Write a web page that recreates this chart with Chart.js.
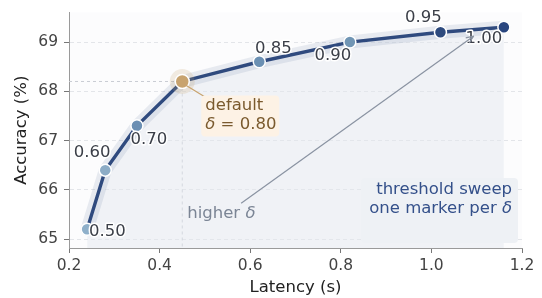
<!DOCTYPE html>
<html>
<head>
<meta charset="utf-8">
<script src="https://cdn.jsdelivr.net/npm/chart.js@4.4.1/dist/chart.umd.min.js"></script>
<style>
  html, body { margin: 0; padding: 0; background: #fff; }
  #c { display: block; }
</style>
</head>
<body>
<canvas id="c" width="542" height="298"></canvas>
<script>
/* Varredura de limiar: latência x acurácia, um marcador por delta */

const deltas   = [0.50, 0.60, 0.70, 0.80, 0.85, 0.90, 0.95, 1.00];
const latency  = [0.24, 0.28, 0.35, 0.45, 0.62, 0.82, 1.02, 1.16];
const accuracy = [65.2, 66.4, 67.3, 68.2, 68.6, 69.0, 69.2, 69.3];
const xTicks = [0.2, 0.4, 0.6, 0.8, 1.0, 1.2];
const yTicks = [65, 66, 67, 68, 69];
const defaultDelta = 0.80;

const FONTE = '"DejaVu Sans", sans-serif';
const TAM = 16.5;
const AZUL = '#2f4a7e';
const CORES_PTS = ['#8fb0ca', '#8cacc6', '#6b8fb3', '#c8a36e', '#6b90b3', '#7095b4', '#2d4a7e', '#2a467f'];
// deslocamento (px) do rótulo de cada delta em relação ao ponto
const OFFS = [[2, 2, 'left'], [-13, -17, 'center'], [12, 14, 'center'], [0, 0, 'none'],
              [14, -13, 'center'], [-17, 14, 'center'], [-17, -14, 'center'], [-20, 11, 'center']];

const pts = latency.map((x, i) => ({ x, y: accuracy[i] }));
const iDef = deltas.indexOf(defaultDelta);

function txt(ctx, s, x, y, cor, align, halo) {
  ctx.textAlign = align; ctx.textBaseline = 'middle';
  if (halo) { ctx.lineWidth = 3; ctx.strokeStyle = '#fff'; ctx.lineJoin = 'round'; ctx.strokeText(s, x, y); }
  ctx.fillStyle = cor; ctx.fillText(s, x, y);
}

function caixa(ctx, x, y, w, h, r, cor) {
  ctx.beginPath();
  ctx.roundRect(x, y, w, h, r);
  ctx.fillStyle = cor; ctx.fill();
}

const fundo = {
  id: 'fundo',
  beforeDraw(chart) {
    const { ctx, chartArea: a } = chart;
    ctx.save();
    ctx.fillStyle = '#fcfcfd';
    ctx.fillRect(a.left, a.top, a.right - a.left, a.bottom - a.top);
    ctx.restore();
  },
  beforeDatasetsDraw(chart) {
    // linhas tracejadas de referência até o ponto padrão
    const { ctx, chartArea: a, scales: { x, y } } = chart;
    const px = x.getPixelForValue(latency[iDef]), py = y.getPixelForValue(accuracy[iDef]);
    ctx.save();
    ctx.strokeStyle = '#c9ccd3'; ctx.lineWidth = 1; ctx.setLineDash([3, 3]);
    ctx.beginPath();
    ctx.moveTo(a.left, py); ctx.lineTo(px, py);
    ctx.moveTo(px, py); ctx.lineTo(px, a.bottom);
    ctx.stroke();
    ctx.restore();
  }
};

const anotacoes = {
  id: 'anotacoes',
  afterDatasetsDraw(chart) {
    const { ctx, chartArea: a, scales: { x, y } } = chart;
    const normal = TAM + 'px ' + FONTE, italico = 'italic ' + TAM + 'px ' + FONTE;
    ctx.save();
    ctx.font = normal;

    // rótulos de delta
    deltas.forEach((d, i) => {
      const o = OFFS[i];
      if (o[2] === 'none') return;
      const px = x.getPixelForValue(latency[i]) + o[0], py = y.getPixelForValue(accuracy[i]) + o[1];
      txt(ctx, d.toFixed(2), px, py, '#3b3f48', o[2], true);
    });

    // seta "higher delta"
    const x0 = x.getPixelForValue(0.58), y0 = y.getPixelForValue(65.73);
    const x1 = x.getPixelForValue(1.093), y1 = y.getPixelForValue(69.12);
    ctx.strokeStyle = '#8a93a2'; ctx.lineWidth = 1.2;
    ctx.beginPath(); ctx.moveTo(x0, y0); ctx.lineTo(x1, y1); ctx.stroke();
    const ang = Math.atan2(y1 - y0, x1 - x0);
    ctx.beginPath();
    ctx.moveTo(x1 - 8 * Math.cos(ang - 0.4), y1 - 8 * Math.sin(ang - 0.4));
    ctx.lineTo(x1, y1);
    ctx.lineTo(x1 - 8 * Math.cos(ang + 0.4), y1 - 8 * Math.sin(ang + 0.4));
    ctx.stroke();
    const hx = x.getPixelForValue(0.461), hy = y.getPixelForValue(65.52);
    txt(ctx, 'higher ', hx, hy, '#7b8595', 'left', false);
    const wH = ctx.measureText('higher ').width;
    ctx.font = italico;
    txt(ctx, 'δ', hx + wH, hy, '#7b8595', 'left', false);

    // caixa do ponto padrão
    const dx = x.getPixelForValue(latency[iDef]), dy = y.getPixelForValue(accuracy[iDef]);
    ctx.strokeStyle = '#c8a36e'; ctx.lineWidth = 1.2;
    ctx.beginPath(); ctx.moveTo(dx + 4, dy + 4); ctx.lineTo(dx + 22, dy + 15); ctx.stroke();
    caixa(ctx, dx + 19, dy + 14, 78, 41, 4, '#fdf2e5');
    ctx.font = normal;
    txt(ctx, 'default', dx + 23, dy + 24, '#7a5a2e', 'left', false);
    ctx.font = italico;
    txt(ctx, 'δ', dx + 23, dy + 43, '#7a5a2e', 'left', false);
    const wd = ctx.measureText('δ').width;
    ctx.font = normal;
    txt(ctx, ' = ' + defaultDelta.toFixed(2), dx + 23 + wd, dy + 43, '#7a5a2e', 'left', false);

    // legenda da varredura
    caixa(ctx, a.right - 161, a.bottom - 70, 157, 65, 4, '#eef1f5');
    const rx = a.right - 10;
    txt(ctx, 'threshold sweep', rx, a.bottom - 58, '#34508a', 'right', false);
    ctx.font = italico;
    const wD = ctx.measureText('δ').width;
    txt(ctx, 'δ', rx, a.bottom - 39, '#34508a', 'right', false);
    ctx.font = normal;
    txt(ctx, 'one marker per ', rx - wD, a.bottom - 39, '#34508a', 'right', false);
    ctx.restore();
  }
};

new Chart(document.getElementById('c'), {
  type: 'scatter',
  data: {
    datasets: [
      { data: [pts[iDef]], pointRadius: 7, pointBackgroundColor: CORES_PTS[iDef],
        pointBorderColor: '#fff', pointBorderWidth: 1.5, order: 0 },
      { data: [pts[iDef]], pointRadius: 12.5, pointBackgroundColor: 'rgba(200,163,110,0.2)',
        pointBorderWidth: 0, order: 1 },
      { data: pts, showLine: true, borderColor: AZUL, borderWidth: 3.4,
        pointRadius: deltas.map(d => d === defaultDelta ? 0 : 6),
        pointBackgroundColor: CORES_PTS, pointBorderColor: '#fff', pointBorderWidth: 1.5, order: 2 },
      { data: pts, showLine: true, borderColor: 'rgba(47,74,126,0.10)', borderWidth: 13,
        borderJoinStyle: 'round', borderCapStyle: 'round', pointRadius: 0, order: 3 },
      { data: pts, showLine: true, borderWidth: 0, pointRadius: 0, fill: 'start',
        backgroundColor: 'rgba(226,230,237,0.45)', order: 4 }
    ]
  },
  options: {
    responsive: false, animation: false,
    layout: { padding: { top: 10, right: 20, left: 0, bottom: 0 } },
    plugins: { legend: { display: false }, tooltip: { enabled: false } },
    scales: {
      x: {
        type: 'linear', min: 0.2, max: 1.2,
        afterFit: s => { s.height = 50; s.paddingLeft = 0; s.paddingRight = 0; },
        afterBuildTicks: s => { s.ticks = xTicks.map(v => ({ value: v })); },
        grid: { drawOnChartArea: false, tickColor: '#777', tickLength: 5 },
        border: { color: '#9a9a9a' },
        ticks: { color: '#444', padding: 4, font: { family: FONTE, size: 15.5 },
                 callback: v => v.toFixed(1) },
        title: { display: true, text: 'Latency (s)', color: '#222', padding: { top: 0, bottom: 0 },
                 font: { family: FONTE, size: TAM } }
      },
      y: {
        type: 'linear', min: 64.82, max: 69.6,
        afterFit: s => { s.width = 69; s.paddingTop = 0; s.paddingBottom = 0; },
        afterBuildTicks: s => { s.ticks = yTicks.map(v => ({ value: v })); },
        grid: { color: '#e3e5e9', tickColor: '#777', tickLength: 5 },
        border: { color: '#9a9a9a', dash: [4, 3] },
        ticks: { color: '#444', padding: 6, font: { family: FONTE, size: 15.5 } },
        title: { display: true, text: 'Accuracy (%)', color: '#222', padding: { top: 12, bottom: 0 },
                 font: { family: FONTE, size: TAM } }
      }
    }
  },
  plugins: [fundo, anotacoes]
});
</script>
</body>
</html>
